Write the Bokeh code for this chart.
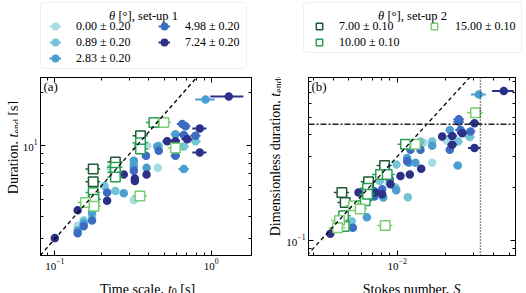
import numpy as np
from bokeh.plotting import figure
from bokeh.models import (Range1d, LogAxis, FixedTicker, Legend, LegendItem, Label,
                          BoxAnnotation, Slope, Span, ColumnDataSource)
from bokeh.layouts import row, column
from bokeh.embed import file_html
from bokeh.resources import INLINE

FONT = "Liberation Serif"

# ---------------- legend texts / colours ----------------
SETUP1_TITLE = ("θ", " [°], set-up 1")
SETUP2_TITLE = ("θ", " [°], set-up 2")
SETUP1_LABELS = ["0.00 ± 0.20", "0.89 ± 0.20", "2.83 ± 0.20", "4.98 ± 0.20", "7.24 ± 0.20"]
SETUP1_COLORS = ["#a6dde4", "#74c3d6", "#4b9fcf", "#3b6cc1", "#2c3187"]
SETUP2_LABELS = ["7.00 ± 0.10", "10.00 ± 0.10", "15.00 ± 0.10"]
SETUP2_COLORS = ["#1d5a35", "#27a055", "#7acd72"]

# ---------------- panel (a): time scale t0 [s], duration t_end [s], error on t0 ----------------
a_t0_000 = [0.140, 0.227, 0.320, 0.390, 0.456]
a_tend_000 = [3.56, 7.52, 4.95, 10.0, 7.52]
a_dt0_000 = [0.003, 0.008, 0.012, 0.018, 0.025]

a_t0_089 = [0.153, 0.173, 0.208, 0.244, 0.320, 0.340, 0.462, 0.668, 0.794]
a_tend_089 = [3.80, 4.05, 5.94, 5.57, 7.91, 10.1, 10.0, 9.91, 10.6]
a_dt0_089 = [0.003, 0.004, 0.006, 0.008, 0.012, 0.014, 0.025, 0.051, 0.061]

a_t0_283 = [0.140, 0.153, 0.173, 0.276, 0.320, 0.320, 0.386, 0.452, 0.591, 0.668, 0.920]
a_tend_283 = [3.34, 3.66, 4.23, 5.41, 7.61, 8.25, 7.52, 9.91, 11.6, 7.42, 18.2]
a_dt0_283 = [0.003, 0.003, 0.004, 0.009, 0.012, 0.012, 0.018, 0.025, 0.040, 0.051, 0.130]

a_t0_498 = [0.140, 0.153, 0.173, 0.216, 0.320, 0.383, 0.462, 0.591, 0.653, 0.685, 0.668, 0.794]
a_tend_498 = [3.23, 3.53, 3.80, 5.46, 7.24, 8.80, 9.38, 8.80, 13.25, 12.9, 11.5, 11.4]
a_dt0_498 = [0.003, 0.003, 0.004, 0.006, 0.012, 0.018, 0.025, 0.040, 0.050, 0.050, 0.050, 0.061]

a_t0_724 = [0.100, 0.140, 0.216, 0.276, 0.325, 0.325, 0.386, 0.523, 0.591, 0.702, 0.845, 0.845, 1.296]
a_tend_724 = [3.03, 4.35, 4.91, 6.90, 6.56, 6.34, 6.90, 10.6, 10.6, 10.9, 12.5, 9.18, 18.9]
a_dt0_724 = [0.002, 0.004, 0.006, 0.009, 0.012, 0.012, 0.018, 0.035, 0.040, 0.055, 0.088, 0.088, 0.310]

a_t0_700 = [0.176, 0.176, 0.244, 0.353]
a_tend_700 = [7.42, 6.28, 8.12, 11.4]
a_dt0_700 = [0.019, 0.019, 0.027, 0.039]

a_t0_1000 = [0.176, 0.178, 0.244, 0.244, 0.244, 0.353, 0.353, 0.430]
a_tend_1000 = [5.46, 5.01, 7.58, 7.11, 6.67, 10.4, 9.59, 13.5]
a_dt0_1000 = [0.019, 0.019, 0.027, 0.027, 0.027, 0.039, 0.039, 0.047]

a_t0_1500 = [0.157, 0.178, 0.350, 0.498, 0.591]
a_tend_1500 = [4.81, 4.58, 5.23, 13.5, 9.71]
a_dt0_1500 = [0.017, 0.019, 0.038, 0.055, 0.065]

# ---------------- panel (b): Stokes number S, t_end/t_s, error on S ----------------
b_st_000 = [0.00608, 0.00883, 0.01458, 0.01652, 0.02028]
b_dur_000 = [0.155, 0.214, 0.360, 0.277, 0.371]
b_dst_000 = [0.0002, 0.0003, 0.0005, 0.0006, 0.0008]

b_st_089 = [0.00521, 0.00779, 0.00976, 0.00990, 0.01164, 0.01397, 0.01652, 0.02399, 0.02834]
b_dur_089 = [0.1286, 0.218, 0.200, 0.271, 0.176, 0.366, 0.366, 0.366, 0.388]
b_dst_089 = [0.0002, 0.0003, 0.0004, 0.0004, 0.0004, 0.0005, 0.0006, 0.0015, 0.0020]

b_st_283 = [0.00647, 0.00818, 0.00986, 0.01154, 0.01181, 0.01300, 0.01652, 0.02127, 0.02386, 0.03224]
b_dur_283 = [0.1355, 0.1757, 0.1931, 0.2952, 0.2767, 0.2767, 0.3463, 0.4264, 0.2671, 0.6774]
b_dst_283 = [0.0002, 0.0003, 0.0004, 0.0004, 0.0004, 0.0005, 0.0006, 0.0012, 0.0015, 0.0034]

b_st_498 = [0.00529, 0.00715, 0.00722, 0.00806, 0.00899, 0.01154, 0.01210, 0.01397, 0.02127,
            0.02420, 0.02420, 0.02480, 0.02862]
b_dur_498 = [0.118, 0.1913, 0.178, 0.1956, 0.2227, 0.2825, 0.3288, 0.3288, 0.3288,
             0.4898, 0.4748, 0.4264, 0.4169]
b_dst_498 = [0.0002, 0.0003, 0.0003, 0.0003, 0.0003, 0.0004, 0.0004, 0.0005, 0.0012,
             0.0018, 0.0018, 0.0018, 0.0020]

b_st_724 = [0.00383, 0.00574, 0.00729, 0.00806, 0.00908, 0.01048, 0.01198, 0.01411, 0.01907,
            0.02202, 0.02202, 0.02541, 0.03031, 0.03031, 0.04615]
b_dur_724 = [0.109, 0.1875, 0.1875, 0.1834, 0.2088, 0.2325, 0.2377, 0.256, 0.391,
             0.394, 0.351, 0.408, 0.465, 0.336, 0.710]
b_dst_724 = [0.0001, 0.0002, 0.0003, 0.0003, 0.0003, 0.0004, 0.0004, 0.0005, 0.0010,
             0.0015, 0.0015, 0.0018, 0.0022, 0.0027, 0.0071]

b_st_700 = [0.00452, 0.00474, 0.00663, 0.00834]
b_dur_700 = [0.1875, 0.1646, 0.2162, 0.2671]
b_dst_700 = [0.0005, 0.0005, 0.0007, 0.0009]

b_st_1000 = [0.00463, 0.00468, 0.00632, 0.00653, 0.00653, 0.00787, 0.00866, 0.01126]
b_dur_1000 = [0.1383, 0.1199, 0.1681, 0.1982, 0.1834, 0.2377, 0.2377, 0.3531]
b_dst_1000 = [0.0005, 0.0005, 0.0007, 0.0007, 0.0007, 0.0009, 0.0010, 0.0012]

b_st_1500 = [0.00437, 0.00425, 0.00534, 0.00588, 0.00842, 0.01300, 0.03075]
b_dur_1500 = [0.1296, 0.118, 0.1575, 0.1509, 0.1215, 0.3531, 0.5336]
b_dst_1500 = [0.0005, 0.0005, 0.0006, 0.0006, 0.0009, 0.0014, 0.0034]

# axis ranges, major ticks and reference lines
A_XRANGE = (0.081, 1.81)
A_YRANGE = (2.42, 24.2)
B_XRANGE = (0.0028, 0.0546)
B_YRANGE = (0.082, 0.848)
A_XMAJOR = [0.1, 1.0]
A_YMAJOR = [10.0]
B_XMAJOR = [0.01]
B_YMAJOR = [0.1]
SLOPE = 30.0
B_STOKES_CRIT = 0.033
B_DURATION_CRIT = 0.459

# ---------------- helpers ----------------
W_ROMAN = {' ': 250, ',': 250, '[': 333, ']': 333, '/': 278, '(': 333, ')': 333, '°': 400,
           'θ': 500, '-': 333, '.': 250,
           'D': 722, 'T': 611, 'S': 556,
           'a': 444, 'b': 500, 'c': 444, 'd': 500, 'e': 444, 'i': 278, 'k': 500, 'l': 278,
           'm': 778, 'n': 500, 'o': 500, 'p': 500, 'r': 333, 's': 389, 't': 278, 'u': 500}


def text_w(s, size):
    return sum(W_ROMAN.get(ch, 500) for ch in s) * size / 1000.0


def add_rich(p, segs, x, y, vertical=False):
    """Text made of several styled pieces (italic symbols, subscripts), centred on (x, y)."""
    total = sum(text_w(t, sz) for t, sz, it, sh in segs)
    pos = -total / 2.0
    for t, sz, it, sh in segs:
        lead = len(t) - len(t.lstrip(" "))
        body = t.strip(" ")
        off = pos + text_w(t[:lead], sz)
        if vertical:
            lx, ly, ang = x + sh, y + off, np.pi / 2
        else:
            lx, ly, ang = x + off, y - sh, 0.0
        p.add_layout(Label(x=lx, y=ly, x_units="screen", y_units="screen", text=body, angle=ang,
                           text_font=FONT, text_font_size=f"{sz}px",
                           text_font_style="italic" if it else "normal",
                           text_align="left", text_baseline="alphabetic", text_color="black"))
        pos += text_w(t, sz)


def minor_ticks(lo, hi):
    out = []
    for e in range(int(np.floor(np.log10(lo))) - 1, int(np.ceil(np.log10(hi))) + 1):
        for k in range(2, 10):
            v = round(k * 10.0 ** e, 10)
            if lo <= v <= hi:
                out.append(v)
    return out


def style_axis(ax, hide_labels=False):
    ax.axis_line_color = "black"
    ax.axis_line_width = 1
    ax.major_tick_in = 5
    ax.major_tick_out = 0
    ax.minor_tick_in = 3
    ax.minor_tick_out = 0
    ax.major_tick_line_color = "black"
    ax.minor_tick_line_color = "black"
    ax.major_label_text_font = FONT
    ax.major_label_text_font_size = "11px"
    ax.major_label_text_color = "black"
    ax.major_label_standoff = 3
    if hide_labels:
        ax.major_label_text_color = None
        ax.major_label_text_font_size = "1px"
        ax.major_label_standoff = 0


def text_fig(w, h):
    # a strip that only carries texts / legends; its data ranges lie away from all data
    f = figure(width=w, height=h, x_range=Range1d(-2, -1), y_range=Range1d(-2, -1),
               x_axis_type=None, y_axis_type=None, output_backend="svg",
               toolbar_location=None, min_border=0)
    f.outline_line_color = None
    f.background_fill_color = "white"
    f.border_fill_color = "white"
    return f


def build(xr, yr, xmaj, ymaj, width, left, right):
    p = figure(width=width, height=199, x_axis_type="log", y_axis_type="log",
               x_range=Range1d(*xr), y_range=Range1d(*yr),
               output_backend="svg", toolbar_location=None,
               min_border_left=left, min_border_right=right,
               min_border_top=2, min_border_bottom=19)
    p.grid.visible = False
    p.outline_line_color = "black"
    p.outline_line_width = 1
    p.background_fill_color = "white"
    p.border_fill_color = "white"
    xt = FixedTicker(ticks=xmaj, minor_ticks=minor_ticks(*xr))
    yt = FixedTicker(ticks=ymaj, minor_ticks=minor_ticks(*yr))
    bottom = p.below[0]
    leftax = p.left[0]
    bottom.ticker = xt
    leftax.ticker = yt
    style_axis(bottom)
    style_axis(leftax)
    top = LogAxis(ticker=xt)
    rightax = LogAxis(ticker=yt)
    style_axis(top, True)
    style_axis(rightax, True)
    p.add_layout(top, "above")
    p.add_layout(rightax, "right")
    return p


def setup1_glyphs(p, src, col):
    seg = p.segment(x0="xl", y0="y", x1="xh", y1="y", source=src, line_color=col, line_width=2)
    dot = p.scatter(x="x", y="y", source=src, marker="circle", size=5.5,
                    fill_color=col, line_color=col, line_width=3)
    return [seg, dot]


def setup2_glyphs(p, src, col):
    p.segment(x0="xl", y0="y", x1="xh", y1="y", source=src, line_color=col, line_width=1.5)
    sq = p.scatter(x="x", y="y", source=src, marker="square", size=9.5,
                   fill_color="white", line_color=col, line_width=1.5)
    return [sq]


def make_src(xs, ys, dx):
    xs = np.array(xs, float)
    dx = np.array(dx, float)
    return ColumnDataSource(dict(x=xs, y=np.array(ys, float), xl=xs - dx, xh=xs + dx))


def plot_series(p, series1, series2):
    s1 = [make_src(*s) for s in series1]
    s2 = [make_src(*s) for s in series2]
    for src, col in zip(s1, SETUP1_COLORS):
        setup1_glyphs(p, src, col)
    for src, col in zip(s2, SETUP2_COLORS):
        setup2_glyphs(p, src, col)
    return s1, s2


def make_legend(items, vx, vy, gw, gh, standoff):
    return Legend(items=items, location=(vx, vy), orientation="vertical",
                  glyph_width=gw, glyph_height=gh, label_height=gh, label_standoff=standoff,
                  spacing=0, padding=0, margin=0, border_line_color=None,
                  background_fill_alpha=0.0,
                  label_text_font=FONT, label_text_font_size="12px", label_text_color="black")


def legend_box(p, left, right, top, bottom):
    kw = dict(left=left, right=right, top=top, bottom=bottom,
              left_units="screen", right_units="screen", top_units="screen", bottom_units="screen",
              fill_color="white", fill_alpha=1.0, line_color="#cccccc", line_width=1)
    if "border_radius" in BoxAnnotation.properties():
        kw["border_radius"] = 3
    p.add_layout(BoxAnnotation(**kw))


FH = 178  # frame height of both panels

# ================= panel (a) =================
pa = build(A_XRANGE, A_YRANGE, A_XMAJOR, A_YMAJOR, width=239, left=22, right=6)
pa.add_layout(Slope(gradient=SLOPE, y_intercept=0, line_color="black",
                    line_dash="4 3", line_width=1.3))
sa1, sa2 = plot_series(pa,
                       [(a_t0_000, a_tend_000, a_dt0_000), (a_t0_089, a_tend_089, a_dt0_089),
                        (a_t0_283, a_tend_283, a_dt0_283), (a_t0_498, a_tend_498, a_dt0_498),
                        (a_t0_724, a_tend_724, a_dt0_724)],
                       [(a_t0_700, a_tend_700, a_dt0_700), (a_t0_1000, a_tend_1000, a_dt0_1000),
                        (a_t0_1500, a_tend_1500, a_dt0_1500)])
pa.add_layout(Label(x=3, y=FH - 16, x_units="screen", y_units="screen", text="(a)",
                    text_font=FONT, text_font_size="13px", text_color="black"))

# ================= panel (b) =================
pb = build(B_XRANGE, B_YRANGE, B_XMAJOR, B_YMAJOR, width=245, left=27, right=11)
pb.add_layout(Span(location=B_DURATION_CRIT, dimension="width", line_color="#222222",
                   line_dash="6 2 2 2", line_width=1.3))
pb.add_layout(Span(location=B_STOKES_CRIT, dimension="height", line_color="#222222",
                   line_dash="1 2", line_width=1.4))
pb.add_layout(Slope(gradient=SLOPE, y_intercept=0, line_color="black",
                    line_dash="4 3", line_width=1.3))
sb1, sb2 = plot_series(pb,
                       [(b_st_000, b_dur_000, b_dst_000), (b_st_089, b_dur_089, b_dst_089),
                        (b_st_283, b_dur_283, b_dst_283), (b_st_498, b_dur_498, b_dst_498),
                        (b_st_724, b_dur_724, b_dst_724)],
                       [(b_st_700, b_dur_700, b_dst_700), (b_st_1000, b_dur_1000, b_dst_1000),
                        (b_st_1500, b_dur_1500, b_dst_1500)])
pb.add_layout(Label(x=3, y=FH - 16, x_units="screen", y_units="screen", text="(b)",
                    text_font=FONT, text_font_size="13px", text_color="black"))

# ================= legends (strip above the panels) =================
la = text_fig(263, 75)
legend_box(la, 40, 246, 73, 7)
add_rich(la, [(SETUP1_TITLE[0], 12.5, True, 0), (SETUP1_TITLE[1], 12.5, False, 0)], 143, 59.5)
items1 = [LegendItem(label=lab, renderers=setup1_glyphs(la, src, col))
          for lab, src, col in zip(SETUP1_LABELS, sa1, SETUP1_COLORS)]
la.add_layout(make_legend(items1[:3], 49, 9, 12, 16, 15))
la.add_layout(make_legend(items1[3:], 158, 25, 12, 16, 15))

lb = text_fig(263, 75)
legend_box(lb, 40, 258, 73, 23)
add_rich(lb, [(SETUP2_TITLE[0], 12.5, True, 0), (SETUP2_TITLE[1], 12.5, False, 0)], 149, 59.5)
items2 = [LegendItem(label=lab, renderers=setup2_glyphs(lb, src, col))
          for lab, src, col in zip(SETUP2_LABELS, sb2, SETUP2_COLORS)]
lb.add_layout(make_legend(items2[:2], 48, 25, 16, 16, 12))
lb.add_layout(make_legend(items2[2:], 163, 41, 16, 16, 13))

# ================= axis titles =================
ya = text_fig(18, 199)
add_rich(ya, [("Duration, ", 14, False, 0), ("t", 14, True, 0), ("end", 10, False, 2.5),
              (" [s]", 14, False, 0)], 13, 108, vertical=True)
yb = text_fig(24, 199)
add_rich(yb, [("Dimensionless duration, ", 14, False, 0), ("t", 14, True, 0),
              ("end", 10, False, 2.5), ("/", 14, False, 0), ("t", 14, True, 0),
              ("s", 10, False, 2.5)], 18, 104, vertical=True)
xa = text_fig(263, 19)
add_rich(xa, [("Time scale, ", 14, False, 0), ("t", 14, True, 0), ("0", 10, False, 2),
              (" [s]", 14, False, 0)], 147, 4.5)
xb = text_fig(263, 19)
add_rich(xb, [("Stokes number, ", 14, False, 0), ("S", 14, True, 0)], 148.5, 4.5)

layout = column(row(la, lb), row(ya, pa, yb, pb), row(xa, xb))
open("out.html", "w").write(file_html(layout, INLINE))
